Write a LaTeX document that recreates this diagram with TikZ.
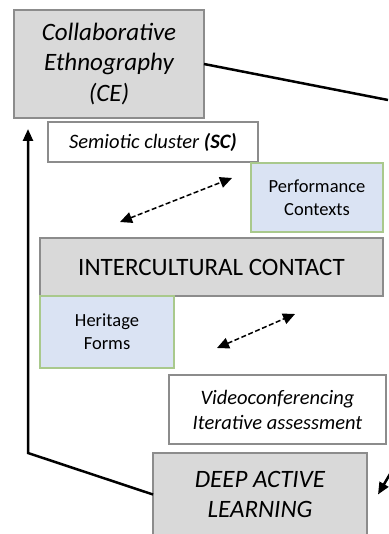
\documentclass[tikz,border=0pt]{standalone}
\usepackage{fontspec}
\setmainfont{Carlito}
\usetikzlibrary{arrows.meta, positioning}

\definecolor{boxgray}{HTML}{D9D9D9}
\definecolor{edgegray}{HTML}{8C8C8C}
\definecolor{paleblue}{HTML}{DAE3F3}
\definecolor{palegreen}{HTML}{A9C98C}

\begin{document}
\begin{tikzpicture}[x=1pt, y=-1pt,
    every node/.style={inner sep=0pt, outer sep=0pt, align=center},
    graybox/.style={draw=edgegray, fill=boxgray, line width=1.2pt},
    bluebox/.style={draw=palegreen, fill=paleblue, line width=1.2pt,
        font=\fontsize{18.5}{23}\selectfont},
    whitebox/.style={draw=edgegray, fill=white, line width=1.2pt},
    bigtext/.style={font=\fontsize{25}{30.5}\selectfont},
    midtext/.style={font=\fontsize{20.5}{25}\selectfont\itshape},
    loopline/.style={line width=2.5pt, line join=miter},
    twoway/.style={dash pattern=on 5pt off 2.5pt, line width=1.5pt,
        {Triangle[length=12pt,width=11pt,sep=0pt]}-{Triangle[length=12pt,width=11pt]}}]
    \useasboundingbox (0,0) rectangle (388,534);
    % Add the boxes
        \node[graybox, bigtext,
              minimum width=190pt,
              minimum height=108pt] (ce) at (109,64)
              {\itshape Collaborative\\\itshape Ethnography\\\itshape (CE)};
        \node[whitebox, midtext,
              minimum width=210pt,
              minimum height=40pt] (sc) at (153,142)
              {Semiotic cluster \textbf{(SC)}};
        \node[graybox, bigtext,
              minimum width=343pt,
              minimum height=58pt] (ic) at (211.5,267)
              {INTERCULTURAL CONTACT};
        \node[bluebox,
              above=6pt of ic.north east,
              anchor=south east,
              minimum width=132pt,
              minimum height=69pt] (perf)
              {Performance\\Contexts};
        \node[bluebox,
              below=0pt of ic.south west,
              anchor=north west,
              minimum width=134pt,
              minimum height=72pt] (herit)
              {Heritage\\Forms};
        \node[whitebox, midtext,
              minimum width=217pt,
              minimum height=69pt] (video) at (277.5,409.5)
              {Videoconferencing\\Iterative assessment};
        \node[graybox, bigtext,
              minimum width=214pt,
              minimum height=83pt] (dal) at (260,494.5)
              {\itshape DEEP ACTIVE\\\itshape LEARNING};

    % Loop ends and corner
        \coordinate (ceout) at (388,100);
        \coordinate (dalin) at (390,474);
        \coordinate (corner) at (28,453);
        \coordinate (cein) at (28,129);
        \coordinate (aone) at (120,222);
        \coordinate (bone) at (232,178);
        \coordinate (atwo) at (217,348);
        \coordinate (btwo) at (295,314);

    % Connectors
        \draw[loopline] (ce.east) -- (ceout);
        \draw[loopline, -{Triangle[length=12pt,width=10pt]}]
            (dalin) -- ([xshift=11pt]dal.east);
        \draw[loopline, -{Triangle[length=12pt,width=10pt]}]
            (dal.west) -- (corner) -- (cein);
        \draw[twoway] (aone) -- (bone);
        \draw[twoway] (atwo) -- (btwo);
\end{tikzpicture}
\end{document}
